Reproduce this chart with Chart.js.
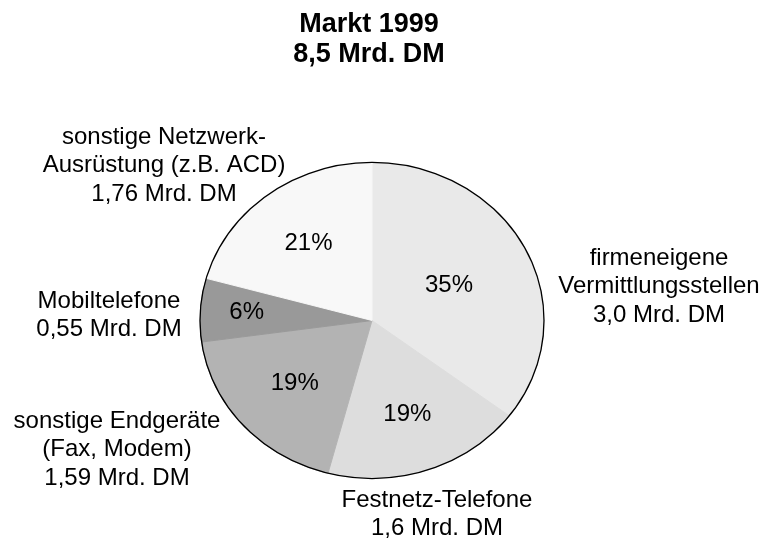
<!DOCTYPE html>
<html>
<head>
<meta charset="utf-8">
<script src="https://cdn.jsdelivr.net/npm/chart.js@4"></script>
<style>
  html, body { margin: 0; padding: 0; background: #fff; }
  #wrap { width: 764px; height: 541px; }
</style>
</head>
<body>
<div id="wrap"><canvas id="id_canv" width="764" height="541"></canvas></div>
<script>
// market segments, clockwise from 12 o'clock
const categories = [
  ['firmeneigene', 'Vermittlungsstellen'],
  ['Festnetz-Telefone'],
  ['sonstige Endgeräte', '(Fax, Modem)'],
  ['Mobiltelefone'],
  ['sonstige Netzwerk-', 'Ausrüstung (z.B. ACD)']
]
const values = [3.0, 1.6, 1.59, 0.55, 1.76]   // Mrd. DM
const titleLines = ['Markt 1999']
const unit = 'Mrd. DM'

const sliceColors = ['#e9e9e9', '#dddddd', '#b3b3b3', '#999999', '#f8f8f8']

// pie is drawn squashed a bit vertically
const squash = 0.919
// how far out the percentage sits in each slice (fraction of radius)
const pctRadius = [0.5, 0.63, 0.6, 0.73, 0.61]
// outer label blocks: centre x and first baseline, relative to the pie centre
const labelOffsets = [
  { dx: 287, dy: -56 },
  { dx: 65, dy: 186 },
  { dx: -255, dy: 107 },
  { dx: -263, dy: -13 },
  { dx: -208, dy: -177 }
]
const lineGap = 28.5
const font = '"Liberation Sans", Arial, Helvetica, sans-serif'

const fmt = (v) => v.toLocaleString('de-DE', { minimumFractionDigits: 1, maximumFractionDigits: 2 })
const total = values.reduce((a, b) => a + b, 0)

const ellipsePlugin = {
  id: 'ellipse',
  beforeDatasetsDraw(chart) {
    const arc = chart.getDatasetMeta(0).data[0]
    const c = chart.ctx
    c.save()
    c.translate(arc.x, arc.y)
    c.scale(1, squash)
    c.translate(-arc.x, -arc.y)
  },
  afterDatasetsDraw(chart) {
    const c = chart.ctx
    c.restore()
    const arcs = chart.getDatasetMeta(0).data
    const { x, y, outerRadius } = arcs[0]

    // outline round the whole pie only
    c.save()
    c.beginPath()
    c.ellipse(x, y, outerRadius, outerRadius * squash, 0, 0, Math.PI * 2)
    c.lineWidth = 1.3
    c.strokeStyle = '#000'
    c.stroke()

    c.fillStyle = '#000'
    c.textAlign = 'center'

    // percentages inside the slices
    c.font = '24px ' + font
    c.textBaseline = 'middle'
    arcs.forEach((a, i) => {
      const mid = (a.startAngle + a.endAngle) / 2
      const r = outerRadius * pctRadius[i]
      const pct = Math.round(values[i] / total * 100) + '%'
      c.fillText(pct, x + Math.cos(mid) * r, y + Math.sin(mid) * r * squash)
    })

    // category labels round the pie
    c.textBaseline = 'alphabetic'
    categories.forEach((lines, i) => {
      const all = lines.concat([fmt(values[i]) + ' ' + unit])
      const o = labelOffsets[i]
      all.forEach((t, k) => c.fillText(t, x + o.dx, y + o.dy + k * lineGap))
    })

    // heading
    c.font = 'bold 27px ' + font
    const head = titleLines.concat([fmt(total) + ' ' + unit])
    head.forEach((t, k) => c.fillText(t, 369, 31.5 + k * 30))
    c.restore()
  }
}

new Chart(document.getElementById('id_canv'), {
  type: 'pie',
  data: {
    labels: categories.map((l) => l.join(' ')),
    datasets: [{
      data: values,
      backgroundColor: sliceColors,
      borderColor: sliceColors,
      borderWidth: 1,
      radius: 172
    }]
  },
  options: {
    responsive: false,
    animation: false,
    layout: { padding: { left: 200, right: 220, top: 150, bottom: 50 } },
    plugins: {
      legend: { display: false },
      tooltip: { enabled: false },
      title: { display: false }
    }
  },
  plugins: [ellipsePlugin]
})
</script>
</body>
</html>
